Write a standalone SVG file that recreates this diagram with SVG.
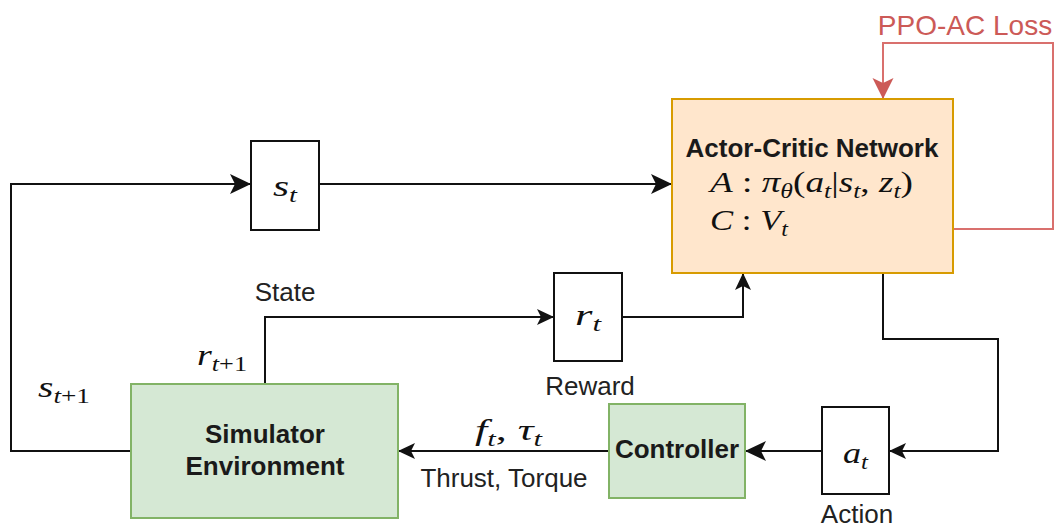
<svg xmlns="http://www.w3.org/2000/svg" width="1059" height="532" viewBox="0 0 1059 532">
<defs>
<style>
.sans{font-family:"Liberation Sans",Arial,sans-serif;}
.lbl{font-family:"Liberation Sans",Arial,sans-serif;font-size:26px;fill:#222;}
.bold{font-family:"Liberation Sans",Arial,sans-serif;font-size:26px;font-weight:bold;fill:#1a1a1a;}
.math{font-family:"Liberation Serif","Times New Roman",serif;font-size:29px;fill:#111;}
.it{font-style:italic;}
.sub{font-style:italic;font-size:20px;}
.box{fill:#fff;stroke:#111;stroke-width:2;}
.green{fill:#d5e8d4;stroke:#82b366;stroke-width:2;}
.orange{fill:#ffe6cc;stroke:#d79b00;stroke-width:2;}
.edge{fill:none;stroke:#111;stroke-width:2;}
.red{fill:none;stroke:#d9706d;stroke-width:2;}
</style>
<marker id="aL" markerUnits="userSpaceOnUse" markerWidth="22" markerHeight="20" refX="21" refY="10" orient="auto" overflow="visible">
<path d="M0,0 L21,10 L0,20 L5,10 Z" fill="#111"/>
</marker>
<marker id="aS" markerUnits="userSpaceOnUse" markerWidth="17" markerHeight="16" refX="17" refY="8" orient="auto" overflow="visible">
<path d="M0,0 L17,8 L0,16 L4,8 Z" fill="#111"/>
</marker>
<marker id="aR" markerUnits="userSpaceOnUse" markerWidth="22" markerHeight="21" refX="21" refY="10.5" orient="auto" overflow="visible">
<path d="M0,0 L21,10.5 L0,21 L5,10.5 Z" fill="#cc5a57"/>
</marker>
</defs>

<g id="connectors">
<path class="edge" d="M131,451 H11 V184 H251" marker-end="url(#aL)"/>
<path class="edge" d="M319,184 H672" marker-end="url(#aL)"/>
<path class="edge" d="M265,384 V317 H554" marker-end="url(#aS)"/>
<path class="edge" d="M622,317 H743 V273" marker-end="url(#aS)"/>
<path class="edge" d="M883,273 V339 H998 V451 H889" marker-end="url(#aS)"/>
<path class="edge" d="M822,451 H745" marker-end="url(#aL)"/>
<path class="edge" d="M609,451 H398" marker-end="url(#aS)"/>
<path class="red" d="M953,229 H1053 V43 H883 V99" marker-end="url(#aR)"/>
<text class="sans" x="965" y="35" font-size="28" fill="#cc5a57" text-anchor="middle">PPO-AC Loss</text>
<text class="lbl" x="285" y="301" text-anchor="middle">State</text>
<text class="lbl" x="590" y="395" text-anchor="middle">Reward</text>
<text class="lbl" x="857" y="523" text-anchor="middle">Action</text>
<text class="lbl" x="504" y="487" text-anchor="middle" font-size="27">Thrust, Torque</text>
<text class="math" x="197" y="365" textLength="50" lengthAdjust="spacingAndGlyphs"><tspan class="it">r</tspan><tspan class="sub" dy="6">t</tspan><tspan font-size="20">+1</tspan></text>
<text class="math" x="38" y="397" textLength="52" lengthAdjust="spacingAndGlyphs"><tspan class="it">s</tspan><tspan class="sub" dy="6">t</tspan><tspan font-size="20">+1</tspan></text>
<text class="math" x="475" y="440" textLength="67" lengthAdjust="spacingAndGlyphs"><tspan class="it">f</tspan><tspan class="sub" dy="6">t</tspan><tspan dy="-6">, </tspan><tspan class="it">τ</tspan><tspan class="sub" dy="6">t</tspan></text>
</g>

<g id="actor-critic">
<rect class="orange" x="672" y="99" width="281" height="174"/>
<text class="bold" x="812" y="157" text-anchor="middle">Actor-Critic Network</text>
<text class="math" x="710" y="192" textLength="203" lengthAdjust="spacingAndGlyphs"><tspan class="it">A</tspan><tspan> : </tspan><tspan class="it">π</tspan><tspan class="sub" dy="6">θ</tspan><tspan dy="-6">(</tspan><tspan class="it">a</tspan><tspan class="sub" dy="6">t</tspan><tspan dy="-6">|</tspan><tspan class="it">s</tspan><tspan class="sub" dy="6">t</tspan><tspan dy="-6">, </tspan><tspan class="it">z</tspan><tspan class="sub" dy="6">t</tspan><tspan dy="-6">)</tspan></text>
<text class="math" x="710" y="230" textLength="78" lengthAdjust="spacingAndGlyphs"><tspan class="it">C</tspan><tspan> : </tspan><tspan class="it">V</tspan><tspan class="sub" dy="6">t</tspan></text>
</g>

<g id="state">
<rect class="box" x="251" y="141" width="68" height="89"/>
<text class="math" x="273" y="196" textLength="24" lengthAdjust="spacingAndGlyphs"><tspan class="it">s</tspan><tspan class="sub" dy="6">t</tspan></text>
</g>

<g id="reward">
<rect class="box" x="554" y="273" width="68" height="88"/>
<text class="math" x="575" y="325" textLength="26" lengthAdjust="spacingAndGlyphs"><tspan class="it">r</tspan><tspan class="sub" dy="6">t</tspan></text>
</g>

<g id="simulator">
<rect class="green" x="131" y="384" width="267" height="134"/>
<text class="bold" x="265" y="443" text-anchor="middle">Simulator</text>
<text class="bold" x="265" y="475" text-anchor="middle">Environment</text>
</g>

<g id="controller">
<rect class="green" x="609" y="404" width="136" height="94"/>
<text class="bold" x="677" y="458" text-anchor="middle">Controller</text>
</g>

<g id="action">
<rect class="box" x="822" y="407" width="67" height="87"/>
<text class="math" x="843" y="463" textLength="25" lengthAdjust="spacingAndGlyphs"><tspan class="it">a</tspan><tspan class="sub" dy="6">t</tspan></text>
</g>
</svg>
